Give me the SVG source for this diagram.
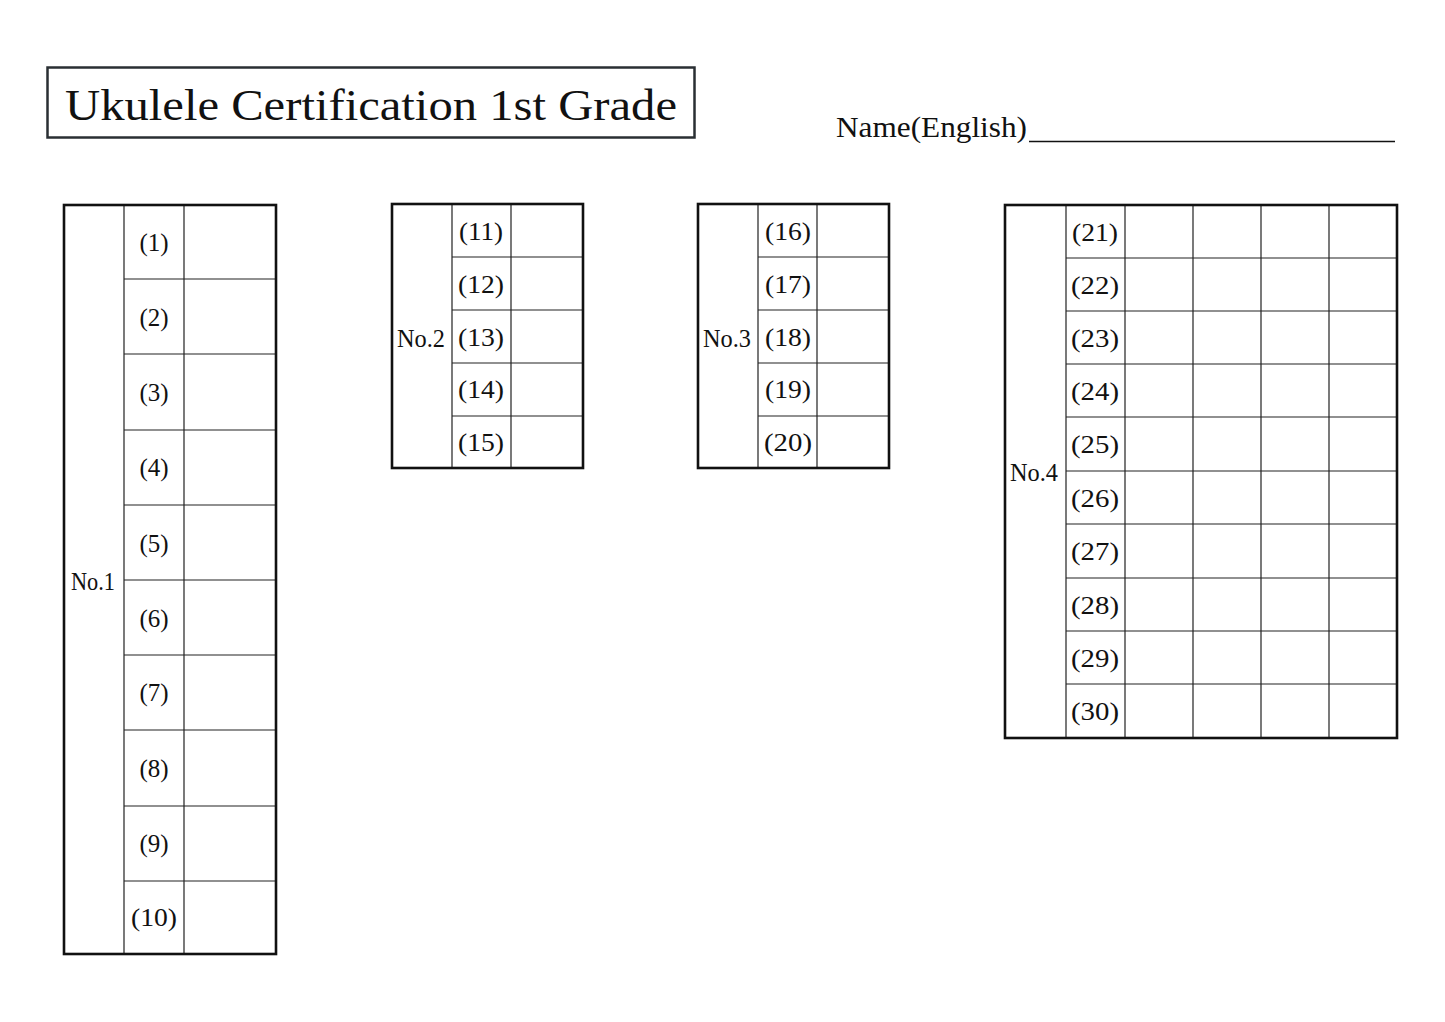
<svg xmlns="http://www.w3.org/2000/svg" width="1445" height="1022" viewBox="0 0 1445 1022">
<style>
.o{fill:none;stroke:#111;stroke-width:2.6}
.i{fill:none;stroke:#222;stroke-width:1.2}
.t{font-family:"Liberation Serif",serif;font-size:25px;fill:#111;text-anchor:middle}
</style>
<rect width="1445" height="1022" fill="#fff"/>
<g id="title">
<rect x="47.5" y="67.5" width="647" height="70" fill="none" stroke="#2a2f33" stroke-width="2.5"/>
<text x="65" y="120" font-family="'Liberation Serif',serif" font-size="44" fill="#111" textLength="612" lengthAdjust="spacingAndGlyphs">Ukulele Certification 1st Grade</text>
</g>
<g id="name">
<text x="836" y="137" font-family="'Liberation Serif',serif" font-size="30" fill="#111" textLength="191" lengthAdjust="spacingAndGlyphs">Name(English)</text>
<line x1="1029" y1="141.5" x2="1395" y2="141.5" stroke="#111" stroke-width="1.5"/>
</g>
<g id="table1">
<path class="i" d="M124 205V954M184 205V954M124 279H276M124 354H276M124 430H276M124 505H276M124 580H276M124 655H276M124 730H276M124 806H276M124 881H276"/>
<rect class="o" x="64" y="205" width="212" height="749"/>
<text class="t" x="93" y="590" textLength="44" lengthAdjust="spacingAndGlyphs">No.1</text>
<g class="t">
<text x="154" y="251">(1)</text><text x="154" y="326">(2)</text><text x="154" y="401">(3)</text><text x="154" y="476">(4)</text><text x="154" y="552">(5)</text><text x="154" y="627">(6)</text><text x="154" y="701">(7)</text><text x="154" y="777">(8)</text><text x="154" y="852">(9)</text><text x="154" y="926" textLength="46" lengthAdjust="spacingAndGlyphs">(10)</text>
</g>
</g>
<g id="table2">
<path class="i" d="M452 204V468M511 204V468M452 257H583M452 310H583M452 363H583M452 416H583"/>
<rect class="o" x="392" y="204" width="191" height="264"/>
<text class="t" x="421" y="347" textLength="48" lengthAdjust="spacingAndGlyphs">No.2</text>
<g class="t">
<text x="481" y="240" textLength="44" lengthAdjust="spacingAndGlyphs">(11)</text><text x="481" y="293" textLength="46" lengthAdjust="spacingAndGlyphs">(12)</text><text x="481" y="346" textLength="46" lengthAdjust="spacingAndGlyphs">(13)</text><text x="481" y="398" textLength="46" lengthAdjust="spacingAndGlyphs">(14)</text><text x="481" y="451" textLength="46" lengthAdjust="spacingAndGlyphs">(15)</text>
</g>
</g>
<g id="table3">
<path class="i" d="M758 204V468M817 204V468M758 257H889M758 310H889M758 363H889M758 416H889"/>
<rect class="o" x="698" y="204" width="191" height="264"/>
<text class="t" x="727" y="347" textLength="48" lengthAdjust="spacingAndGlyphs">No.3</text>
<g class="t">
<text x="788" y="240" textLength="46" lengthAdjust="spacingAndGlyphs">(16)</text><text x="788" y="293" textLength="46" lengthAdjust="spacingAndGlyphs">(17)</text><text x="788" y="346" textLength="46" lengthAdjust="spacingAndGlyphs">(18)</text><text x="788" y="398" textLength="46" lengthAdjust="spacingAndGlyphs">(19)</text><text x="788" y="451" textLength="48" lengthAdjust="spacingAndGlyphs">(20)</text>
</g>
</g>
<g id="table4">
<path class="i" d="M1066 205V738M1125 205V738M1193 205V738M1261 205V738M1329 205V738M1066 258H1397M1066 311H1397M1066 364H1397M1066 417H1397M1066 471H1397M1066 524H1397M1066 578H1397M1066 631H1397M1066 684H1397"/>
<rect class="o" x="1005" y="205" width="392" height="533"/>
<text class="t" x="1034" y="481" textLength="48" lengthAdjust="spacingAndGlyphs">No.4</text>
<g class="t">
<text x="1095" y="241" textLength="46" lengthAdjust="spacingAndGlyphs">(21)</text><text x="1095" y="294" textLength="48" lengthAdjust="spacingAndGlyphs">(22)</text><text x="1095" y="347" textLength="48" lengthAdjust="spacingAndGlyphs">(23)</text><text x="1095" y="400" textLength="48" lengthAdjust="spacingAndGlyphs">(24)</text><text x="1095" y="453" textLength="48" lengthAdjust="spacingAndGlyphs">(25)</text><text x="1095" y="507" textLength="48" lengthAdjust="spacingAndGlyphs">(26)</text><text x="1095" y="560" textLength="48" lengthAdjust="spacingAndGlyphs">(27)</text><text x="1095" y="614" textLength="48" lengthAdjust="spacingAndGlyphs">(28)</text><text x="1095" y="667" textLength="48" lengthAdjust="spacingAndGlyphs">(29)</text><text x="1095" y="720" textLength="48" lengthAdjust="spacingAndGlyphs">(30)</text>
</g>
</g>
</svg>
